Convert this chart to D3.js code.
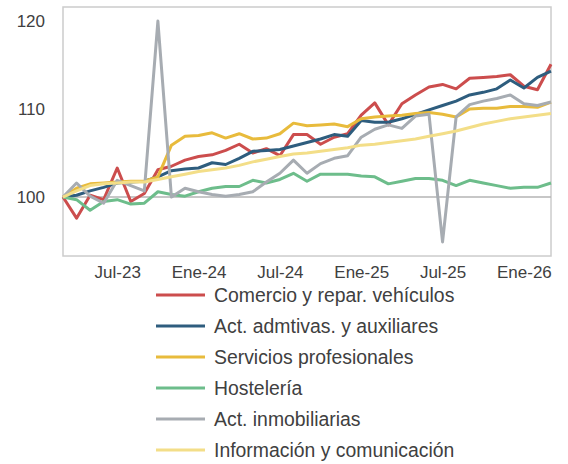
<!DOCTYPE html>
<html>
<head>
<meta charset="utf-8">
<script src="https://cdn.jsdelivr.net/npm/d3@7"></script>
<style>
  body { margin: 0; background: #fff; }
  text { font-family: "Liberation Sans", Arial, sans-serif; fill: #404040; }
</style>
</head>
<body>
<div class="canvas"></div>
<script>
// months, Mar-23 .. Mar-26
const months = ['Mar-23','Abr-23','May-23','Jun-23','Jul-23','Ago-23','Sep-23','Oct-23','Nov-23','Dic-23',
  'Ene-24','Feb-24','Mar-24','Abr-24','May-24','Jun-24','Jul-24','Ago-24','Sep-24','Oct-24','Nov-24','Dic-24',
  'Ene-25','Feb-25','Mar-25','Abr-25','May-25','Jun-25','Jul-25','Ago-25','Sep-25','Oct-25','Nov-25','Dic-25',
  'Ene-26','Feb-26','Mar-26'];
const xTicks = ['Jul-23','Ene-24','Jul-24','Ene-25','Jul-25','Ene-26'];
const yTicks = [100, 110, 120];

const comercio = [100, 97.6, 100.2, 99.7, 103.3, 99.5, 100.4, 103.1, 103.5, 104.2, 104.6, 104.8, 105.3, 106.0, 105.0, 105.5, 104.7, 107.1, 107.1, 106.0, 106.8, 107.2, 109.3, 110.7, 108.2, 110.6, 111.6, 112.5, 112.8, 112.3, 113.5, 113.6, 113.7, 113.9, 112.6, 112.2, 115.1];
const admtivas = [100, 100.2, 100.7, 101.1, 101.6, 101.7, 101.8, 102.3, 103.0, 103.2, 103.3, 103.9, 103.7, 104.4, 105.2, 105.3, 105.4, 105.8, 106.2, 106.6, 107.1, 106.9, 108.7, 108.5, 108.5, 108.9, 109.4, 109.9, 110.4, 110.9, 111.6, 111.9, 112.3, 113.3, 112.4, 113.6, 114.3];
const servicios = [100, 101.0, 101.5, 101.6, 101.7, 101.8, 101.8, 102.3, 105.9, 106.9, 107.0, 107.3, 106.7, 107.2, 106.6, 106.7, 107.2, 108.4, 108.1, 108.2, 108.3, 108.0, 108.9, 109.1, 109.2, 109.3, 109.5, 109.6, 109.4, 109.1, 110.0, 110.1, 110.1, 110.3, 110.3, 110.2, 110.8];
const hosteleria = [100, 99.7, 98.5, 99.5, 99.7, 99.2, 99.3, 100.6, 100.3, 100.1, 100.6, 101.0, 101.2, 101.2, 101.9, 101.6, 102.0, 102.7, 101.8, 102.6, 102.6, 102.6, 102.4, 102.3, 101.5, 101.8, 102.1, 102.1, 101.9, 101.3, 101.9, 101.6, 101.3, 101.0, 101.1, 101.1, 101.6];
const inmobiliarias = [100, 101.6, 100.1, 99.3, 101.9, 101.3, 100.7, 120.0, 100.0, 101.0, 100.6, 100.3, 100.1, 100.3, 100.6, 101.7, 102.7, 104.2, 102.7, 103.8, 104.4, 104.7, 106.8, 107.7, 108.2, 107.8, 109.2, 109.4, 94.9, 109.1, 110.5, 110.9, 111.2, 111.6, 110.6, 110.4, 110.8];
const informacion = [100, 100.7, 101.3, 101.5, 101.6, 101.7, 101.7, 102.0, 102.3, 102.6, 102.9, 103.1, 103.3, 103.6, 104.0, 104.3, 104.6, 104.9, 105.0, 105.2, 105.4, 105.6, 105.9, 106.0, 106.2, 106.4, 106.6, 106.9, 107.2, 107.5, 107.9, 108.3, 108.6, 108.9, 109.1, 109.3, 109.5];

const seriesNames = ['Comercio y repar. vehículos','Act. admtivas. y auxiliares','Servicios profesionales','Hostelería','Act. inmobiliarias','Información y comunicación'];
const seriesValues = [comercio, admtivas, servicios, hosteleria, inmobiliarias, informacion];
const colors = ['#cc4d4d','#2e5d7e','#e8bb3c','#6dbd8b','#a7acb2','#f3de88'];

const svgWidth = 568;
const svgHeight = 464;

const svg = d3.select('.canvas')
    .append('svg')
    .attr('width', svgWidth)
    .attr('height', svgHeight);

// plot box
const plot = { left: 63, right: 551, top: 7, bottom: 256 };

const x = d3.scalePoint()
    .domain(months)
    .range([plot.left, plot.right]);

const y = d3.scaleLinear()
    .domain([93.3, 121.6])
    .range([plot.bottom, plot.top]);

// frame
svg.append('rect')
    .attr('x', plot.left)
    .attr('y', plot.top)
    .attr('width', plot.right - plot.left)
    .attr('height', plot.bottom - plot.top)
    .attr('fill', 'none')
    .attr('stroke', '#cccccc')
    .attr('stroke-width', 1.5);

// base 100 line
svg.append('line')
    .attr('x1', plot.left)
    .attr('x2', plot.right)
    .attr('y1', y(100))
    .attr('y2', y(100))
    .attr('stroke', '#b5b5b5')
    .attr('stroke-width', 1.5);

// axes
const xAxis = d3.axisBottom(x).tickValues(xTicks).tickSize(0).tickPadding(10);
const yAxis = d3.axisLeft(y).tickValues(yTicks).tickSize(0).tickPadding(18);

const xAxisGroup = svg.append('g')
    .attr('transform', `translate(0, ${plot.bottom})`)
    .call(xAxis);
const yAxisGroup = svg.append('g')
    .attr('transform', `translate(${plot.left}, 0)`)
    .call(yAxis);

[xAxisGroup, yAxisGroup].forEach(g => {
    g.select('.domain').remove();
    g.selectAll('text')
        .attr('font-size', 17)
        .attr('font-family', '"Liberation Sans", Arial, sans-serif')
        .attr('fill', '#404040');
});

// lines
const line = d3.line()
    .x((d, i) => x(months[i]))
    .y(d => y(d));

svg.selectAll('path.serie')
    .data(seriesValues)
    .enter()
    .append('path')
        .attr('class', 'serie')
        .attr('d', d => line(d))
        .attr('fill', 'none')
        .attr('stroke', (d, i) => colors[i])
        .attr('stroke-width', 3)
        .attr('stroke-linejoin', 'round');

// legend
const legend = svg.append('g')
    .attr('transform', 'translate(156, 295)');

const items = legend.selectAll('g')
    .data(seriesNames)
    .enter()
    .append('g')
        .attr('transform', (d, i) => `translate(0, ${i * 31})`);

items.append('line')
    .attr('x1', 0)
    .attr('x2', 49)
    .attr('stroke', (d, i) => colors[i])
    .attr('stroke-width', 3);

items.append('text')
    .attr('x', 58)
    .attr('dy', '0.35em')
    .attr('font-size', 19.4)
    .text(d => d);
</script>
</body>
</html>
